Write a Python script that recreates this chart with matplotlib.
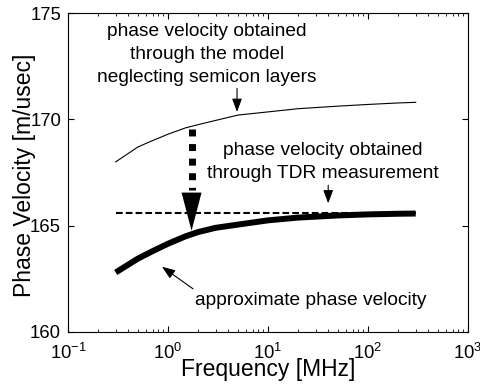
import numpy as np
import matplotlib
matplotlib.use('Agg')
import matplotlib.pyplot as plt

plt.rcParams['font.family'] = ['Liberation Sans', 'DejaVu Sans']
plt.rcParams['mathtext.default'] = 'regular'

# frequencies in MHz
freq = [0.3, 0.5, 0.7, 1, 1.5, 2, 3, 5, 10, 20, 50, 100, 200, 300]
# model neglecting semicon layers (thin line)
v_model = [168.0, 168.7, 169.0, 169.3, 169.6, 169.75, 169.95, 170.2, 170.35,
           170.5, 170.62, 170.7, 170.77, 170.8]
# approximate phase velocity (thick line)
v_approx = [162.8, 163.45, 163.8, 164.15, 164.5, 164.7, 164.9, 165.05, 165.25,
            165.38, 165.48, 165.53, 165.56, 165.57]
# TDR measurement (dashed)
v_tdr = 165.6

fig = plt.figure(figsize=(4.81, 3.87), dpi=100)
ax = fig.add_axes([68/481, 1-332/387, 400/481, 319/387])

ax.plot(freq, v_model, color='black', lw=0.8)
ax.plot([freq[0], freq[-1]], [v_tdr, v_tdr], color='black', lw=1.5, ls=(0, (3.2, 1.5)))
ax.plot(freq, v_approx, color='black', lw=4.3, solid_capstyle='butt')

ax.set_xscale('log')
ax.set_xlim(0.1, 1000)
ax.set_ylim(160, 175)
ax.set_yticks([160, 165, 170, 175])
ax.tick_params(which='both', direction='in', top=True, right=True, labelsize=13.3)
ax.tick_params(axis='y', pad=5)
ax.tick_params(axis='x', pad=8)
ax.tick_params(which='major', length=4)
ax.tick_params(which='minor', length=2)
ax.set_xlabel('Frequency [MHz]', fontsize=16.5, labelpad=-4)
ax.set_ylabel('Phase Velocity [m/usec]', fontsize=16.5, va='center')
ax.yaxis.set_label_coords(-0.11, 0.49)

# big dotted arrow from model curve down to approximate curve
ax.plot([1.72, 1.72], [169.55, 166.7], color='black', lw=5, ls=(0, (1, 1.1)))
ax.annotate('', xy=(1.72, 164.76), xytext=(1.72, 166.6),
            arrowprops=dict(arrowstyle='-|>,head_length=2.75,head_width=0.72',
                            color='black', lw=0, shrinkA=0, shrinkB=0))

tfs = 13.8
ax.text(2.45, 173.05, 'phase velocity obtained\nthrough the model\nneglecting semicon layers',
        ha='center', va='center', fontsize=tfs, linespacing=1.45)
ax.annotate('', xy=(4.9, 170.35), xytext=(4.9, 171.45),
            arrowprops=dict(arrowstyle='-|>,head_length=0.8,head_width=0.3',
                            color='black', lw=0.8, shrinkA=0, shrinkB=0))
ax.text(35, 168.0, 'phase velocity obtained\nthrough TDR measurement',
        ha='center', va='center', fontsize=tfs, linespacing=1.45)
ax.annotate('', xy=(40, 166.05), xytext=(40, 166.9),
            arrowprops=dict(arrowstyle='-|>,head_length=0.8,head_width=0.3',
                            color='black', lw=0.8, shrinkA=0, shrinkB=0))
ax.text(1.86, 161.46, 'approximate phase velocity', ha='left', va='center', fontsize=tfs)
ax.annotate('', xy=(0.87, 163.07), xytext=(1.78, 162.03),
            arrowprops=dict(arrowstyle='-|>,head_length=0.8,head_width=0.3',
                            color='black', lw=0.8, shrinkA=0, shrinkB=0))

fig.savefig('out.png', dpi=100)
